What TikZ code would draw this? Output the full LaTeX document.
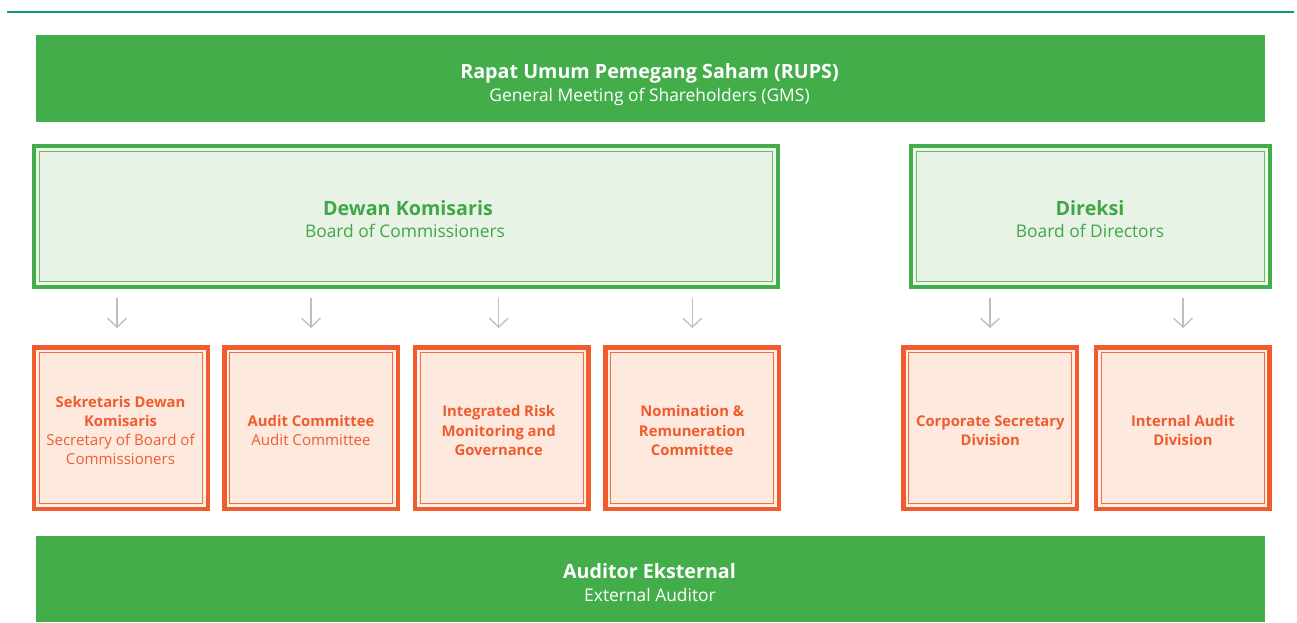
\documentclass[tikz,border=0pt]{standalone}
\usepackage{fontspec}
\setmainfont{Open Sans}
\usetikzlibrary{arrows.meta}
\definecolor{gdark}{RGB}{67,173,74}
\definecolor{gtext}{RGB}{61,168,70}
\definecolor{glight}{RGB}{232,243,230}
\definecolor{ginner}{RGB}{100,190,106}
\definecolor{ogap}{RGB}{253,243,236}
\definecolor{ggap}{RGB}{243,249,241}
\definecolor{odark}{RGB}{241,92,46}
\definecolor{olight}{RGB}{253,233,222}
\definecolor{oinner}{RGB}{242,110,70}
\definecolor{teal}{RGB}{16,154,128}
\definecolor{arrgray}{RGB}{190,190,190}
\begin{document}
\begin{tikzpicture}[x=1pt,y=-1pt,
  bar/.style={fill=gdark, minimum width=1229pt, inner sep=0pt, outer sep=0pt},
  gbox/.style={draw=gdark, line width=4.5pt, fill=glight, inner sep=0pt, outer sep=0pt, minimum height=140.5pt},
  obox/.style={draw=odark, line width=4.5pt, fill=olight, inner sep=0pt, outer sep=0pt, minimum width=173.5pt, minimum height=161.2pt},
  gapg/.style={draw=ggap, line width=1.6pt},
  gapo/.style={draw=ogap, line width=1.6pt},
  ginl/.style={draw=ginner, line width=1.1pt},
  oinl/.style={draw=oinner, line width=1.1pt},
  tb/.style={anchor=base, inner sep=0pt, font=\fontsize{19.7}{22}\selectfont\bfseries},
  tr/.style={anchor=base, inner sep=0pt, font=\fontsize{17.4}{20}\selectfont},
  ob/.style={anchor=base, inner sep=0pt, text=odark, font=\fontsize{14.8}{18}\selectfont\bfseries},
  orr/.style={anchor=base, inner sep=0pt, text=odark, font=\fontsize{15.1}{18}\selectfont},
  arr/.style={draw=arrgray, line width=1.3pt, -{Straight Barb[length=9pt,width=19pt,line width=1.3pt]}}
]
\useasboundingbox (0,0) rectangle (1297,622);
\fill[white] (0,0) rectangle (1297,622);
% top rule
\draw[teal, line width=2.2pt] (7,12) -- (1294,12);

% full-width bars
\node[bar, minimum height=87pt] (rups) at (650.5,78.5) {};
\node[tb, text=white] (rups1) at (649.5,78.3) {Rapat Umum Pemegang Saham (RUPS)};
\node[tr, text=white] (rups2) at (649.5,101.7) {General Meeting of Shareholders (GMS)};

\node[bar, minimum height=86pt] (aud) at (650.5,579) {};
\node[tb, text=white] (aud1) at (649.5,578.3) {Auditor Eksternal};
\node[tr, text=white] (aud2) at (650,601.7) {External Auditor};

% boards
\node[gbox, minimum width=743.5pt] (dk) at (406,216.5) {};
\node[gbox, minimum width=358.5pt] (dr) at (1090.5,216.5) {};
\foreach \n in {dk,dr}{
  \draw[gapg] ([shift={(3,3)}]\n.north west) rectangle ([shift={(-3,-3)}]\n.south east);
  \draw[ginl] ([shift={(5.3,5.3)}]\n.north west) rectangle ([shift={(-5.3,-5.3)}]\n.south east);
}
\node[tb, text=gtext] (dk1) at (408,215) {Dewan Komisaris};
\node[tr, text=gtext] (dk2) at (405,237) {Board of Commissioners};
\node[tb, text=gtext] (dr1) at (1090,215) {Direksi};
\node[tr, text=gtext] (dr2) at (1090,237.5) {Board of Directors};

% units
\node[obox] (o1) at (121,428.2) {};
\node[obox] (o2) at (311.1,428.2) {};
\node[obox] (o3) at (501.7,428.2) {};
\node[obox] (o4) at (692.2,428.2) {};
\node[obox] (o5) at (990.3,428.2) {};
\node[obox] (o6) at (1182.9,428.2) {};
\foreach \n in {o1,o2,o3,o4,o5,o6}{
  \draw[gapo] ([shift={(3,3)}]\n.north west) rectangle ([shift={(-3,-3)}]\n.south east);
  \draw[oinl] ([shift={(5.3,5.3)}]\n.north west) rectangle ([shift={(-5.3,-5.3)}]\n.south east);
}
\node[ob] (o1a) at (120.5,407.3) {Sekretaris Dewan};
\node[ob] (o1b) at (120.5,426.3) {Komisaris};
\node[orr] (o1c) at (120.5,445.6) {Secretary of Board of};
\node[orr] (o1d) at (120.5,464.9) {Commissioners};

\node[ob] (o2a) at (311,426.3) {Audit Committee};
\node[orr] (o2b) at (311,445.6) {Audit Committee};

\node[ob] (o3a) at (498.7,416.7) {Integrated Risk};
\node[ob] (o3b) at (498.7,436) {Monitoring and};
\node[ob] (o3c) at (498.7,455.3) {Governance};

\node[ob] (o4a) at (692.2,416.7) {Nomination \&};
\node[ob] (o4b) at (692.2,436) {Remuneration};
\node[ob] (o4c) at (692.2,455.3) {Committee};

\node[ob] (o5a) at (990.3,426.5) {Corporate Secretary};
\node[ob] (o5b) at (990.3,445.8) {Division};

\node[ob] (o6a) at (1182.9,426.5) {Internal Audit};
\node[ob] (o6b) at (1182.9,445.8) {Division};

% arrows
\foreach \i/\x in {1/117,2/311,3/498.7,4/692.3,5/990,6/1183}{
  \coordinate (s\i) at (\x,298);
  \coordinate (e\i) at (\x,328);
}
\foreach \i in {1,...,6}{ \draw[arr] (s\i) -- (e\i); }
\end{tikzpicture}
\end{document}
